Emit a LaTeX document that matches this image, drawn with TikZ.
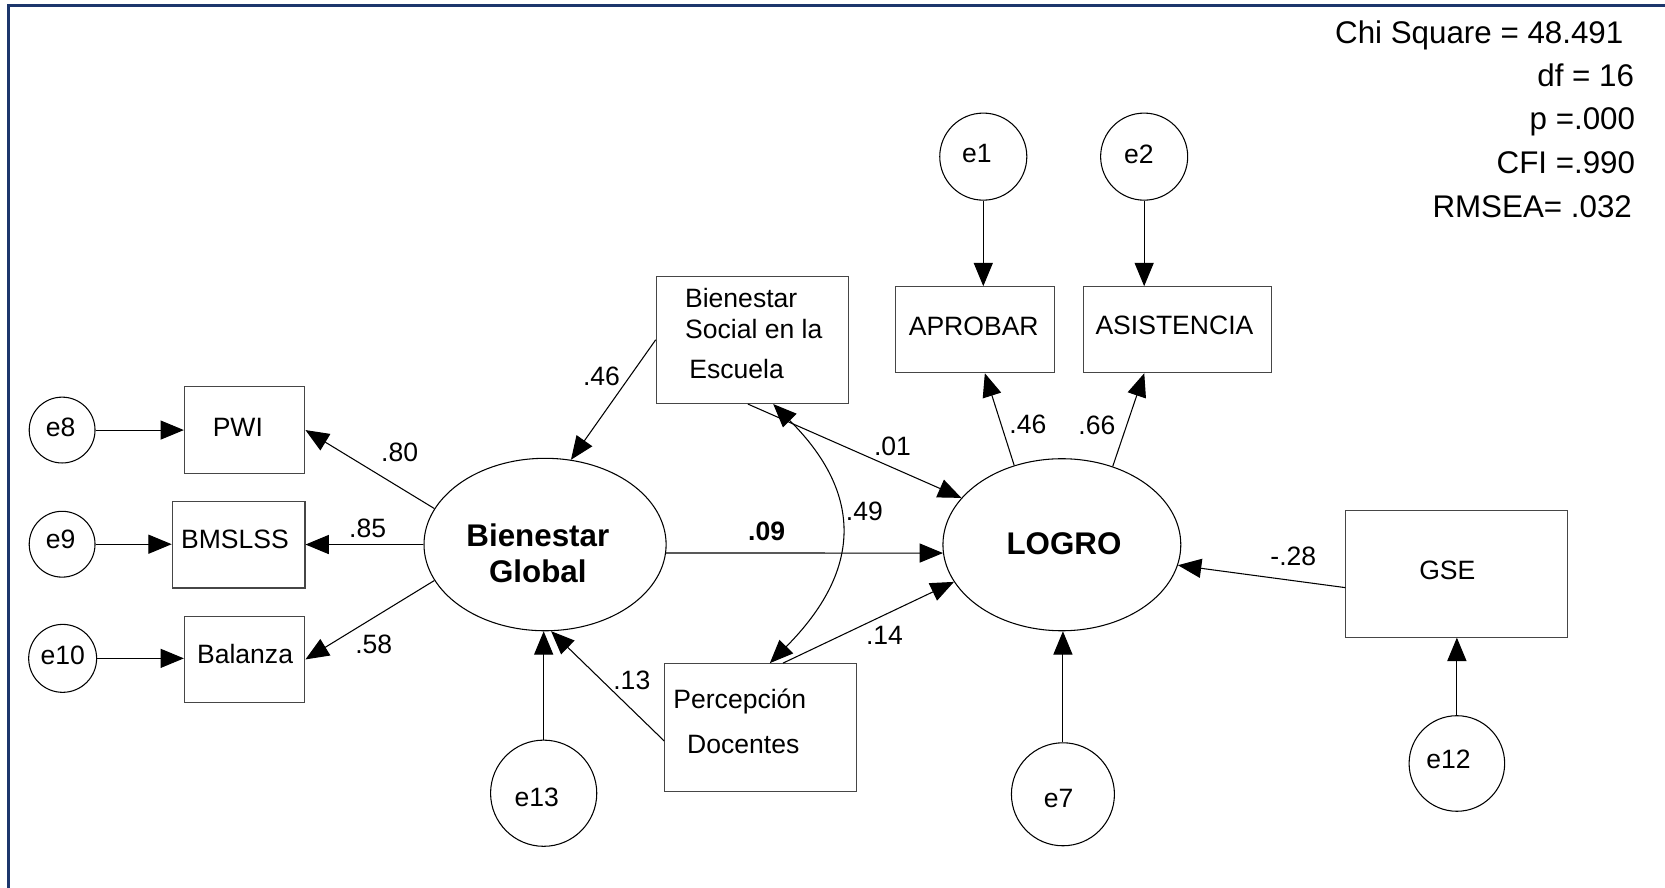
\documentclass[tikz,border=0pt]{standalone}
\usepackage{fontspec}
\setmainfont{Liberation Sans}
\usetikzlibrary{arrows.meta,shapes.geometric}

\newcommand\dgNode{\fontsize{25}{30}\selectfont}
\newcommand\dgLbl{\fontsize{25}{30}\selectfont}
\newcommand\dgStat{\fontsize{29.5}{34}\selectfont}
\newcommand\dgLat{\fontsize{29.5}{34}\selectfont\bfseries}

\definecolor{framenavy}{RGB}{28,54,108}
\definecolor{boxgray}{RGB}{70,70,70}

\tikzset{
  ln/.style={line width=1pt, draw=black},
  arr/.style={ln, -{Triangle[length=22pt,width=18pt]}},
  dbl/.style={ln, {Triangle[length=22pt,width=18pt]}-{Triangle[length=22pt,width=18pt]}},
  obs/.style={draw=boxgray, line width=1pt, rectangle, inner sep=0pt},
  lat/.style={draw=black, line width=1pt, ellipse, inner sep=0pt},
  err/.style={draw=black, line width=1pt, circle, inner sep=0pt},
  txt/.style={inner sep=0pt, font=\dgNode},
  lbl/.style={inner sep=0pt, font=\dgLbl},
  stat/.style={inner sep=0pt, font=\dgStat, anchor=base east},
}

\begin{document}
\begin{tikzpicture}[x=1pt,y=-1pt]
\useasboundingbox (0,0) rectangle (1568,836);
\fill[white] (0,0) rectangle (1568,836);

% frame (top and left edges)
\draw[framenavy, line width=2.5pt] (8,836) -- (8,5) -- (1568,5);

% fit statistics
\node[stat] (chi)   at (1529,40.5)  {Chi Square = 48.491};
\node[stat] (df)    at (1539,81)  {df = 16};
\node[stat] (pval)  at (1540,122) {p =.000};
\node[stat] (cfi)   at (1540,163.5) {CFI =.990};
\node[stat] (rmsea) at (1537,204.5) {RMSEA= .032};

% error terms
\node[err, minimum size=62pt] (e8)  at (58.5,405)   {};
\node[err, minimum size=62pt] (e9)  at (58.5,512.5) {};
\node[err, minimum size=64pt] (e10) at (59,620)   {};
\node[err, minimum size=82pt] (e1)  at (926,147.5)  {};
\node[err, minimum size=82pt] (e2)  at (1077.5,147.5) {};
\node[err, minimum size=100pt] (e13) at (512,747) {};
\node[err, minimum size=97pt] (e7)  at (1001,748) {};
\node[err, minimum size=90pt] (e12) at (1372,719) {};

\node[txt] (te8)  at (57,402)   {e8};
\node[txt] (te9)  at (57,508)   {e9};
\node[txt] (te10) at (59,617)   {e10};
\node[txt] (te1)  at (920,145)  {e1};
\node[txt] (te2)  at (1072.5,145) {e2};
\node[txt] (te13) at (505.5,750.5) {e13};
\node[txt] (te7)  at (997,752)  {e7};
\node[txt] (te12) at (1364,715) {e12};

% observed variables
\node[obs, minimum width=113.5pt, minimum height=81.5pt] (pwi)  at (230.4,405) {};
\node[obs, minimum width=125pt,   minimum height=81.5pt] (bms)  at (224.7,513) {};
\node[obs, minimum width=113.5pt, minimum height=81.5pt] (bal)  at (230.4,621) {};
\node[obs, minimum width=181pt, minimum height=120pt] (bse) at (708.5,320) {};
\node[obs, minimum width=181pt, minimum height=120pt] (pd)  at (716.5,685) {};
\node[obs, minimum width=150pt, minimum height=81pt] (apro) at (918,310.5) {};
\node[obs, minimum width=177pt, minimum height=81pt] (asis) at (1108.5,310.5) {};
\node[obs, minimum width=209pt, minimum height=119pt] (gse) at (1372,540.5) {};

\node[txt] (tpwi)  at (224,402)   {PWI};
\node[txt] (tbms)  at (221.3,508) {BMSLSS};
\node[txt] (tbal)  at (230.8,616) {Balanza};
\node[txt] (tapro) at (917,307)   {APROBAR};
\node[txt] (tasis) at (1106,306.3) {ASISTENCIA};
\node[txt] (tgse)  at (1363,537) {GSE};
\node[txt, anchor=base west] (tbse1) at (645,290)   {Bienestar};
\node[txt, anchor=base west] (tbse2) at (645,319)   {Social en la};
\node[txt, anchor=base west] (tbse3) at (649,356)   {Escuela};
\node[txt, anchor=base west] (tpd1)  at (634,667)   {Percepción};
\node[txt, anchor=base west] (tpd2)  at (647,709.5) {Docentes};

% latent variables
\node[lat, minimum width=228pt, minimum height=162.4pt] (bg)    at (513.3,512.8) {};
\node[lat, minimum width=224pt, minimum height=162pt]   (logro) at (1000,513)    {};
\node[inner sep=0pt, font=\dgLat, anchor=base] (tbg1) at (506.5,515) {Bienestar};
\node[inner sep=0pt, font=\dgLat, anchor=base] (tbg2) at (506.5,549) {Global};
\node[inner sep=0pt, font=\dgLat] (tlogro) at (1002,512) {LOGRO};

% measurement paths
\draw[arr] (e8.east)  -- (e8.east -| pwi.west);
\draw[arr] (e9.east)  -- (e9.east -| bms.west);
\draw[arr] (e10.east) -- (e10.east -| bal.west);
\draw[arr] (bg.162) -- (pwi.east);
\draw[arr] (bg.west) -- (bg.west -| bms.east);
\draw[arr] (bg.198) -- (bal.east);
\draw[arr] (e1.south) -- (e1.south |- apro.north);
\draw[arr] (e2.south) -- (e2.south |- asis.north);
\draw[arr] (logro.121.5) -- (apro.-77);
\draw[arr] (logro.57.4) -- (asis.233);

% structural paths
\draw[arr] (bse.west) -- (bg.73.5);
\draw[arr] (bse.-94) -- (logro.155);
\draw[dbl] (bse.-72) .. controls (814,466) and (811,538) .. (pd.82);
\draw[arr] (bg.-4) -- (logro.184);
\draw[arr] (pd.71) -- (logro.199);
\draw[arr] (pd.188) -- (bg.-86);
\draw[arr] (e13.north) -- (e13.north |- bg.south);
\draw[arr] (gse.187) -- (logro.-10);
\draw[arr] (e7.north) -- (e7.north |- logro.south);
\draw[arr] (e12.north) -- (e12.north |- gse.south);

% coefficients
\node[lbl] (c80) at (376.3,426)  {.80};
\node[lbl] (c85) at (346.2,497.2) {.85};
\node[lbl] (c58) at (352,606.6)  {.58};
\node[lbl] (c46a) at (566.5,354) {.46};
\node[lbl] (c13) at (595,640.4)  {.13};
\node[lbl] (c01) at (840.5,420)  {.01};
\node[lbl] (c49) at (814,482)    {.49};
\node[lbl, font=\dgLbl\bfseries] (c09) at (722,500) {.09};
\node[lbl] (c14) at (833,598)    {.14};
\node[lbl] (c46b) at (968,400)   {.46};
\node[lbl] (c66) at (1033,401)   {.66};
\node[lbl] (c28) at (1218,524)   {-.28};
\end{tikzpicture}
\end{document}
